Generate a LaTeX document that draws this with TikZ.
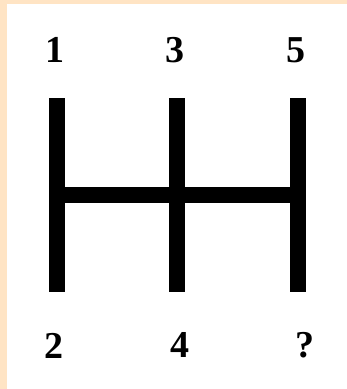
\documentclass[tikz,border=0pt]{standalone}
\usepackage{fontspec}
\setmainfont{Liberation Serif}
\definecolor{bisque}{HTML}{FFE4C4}
\begin{document}
\begin{tikzpicture}[x=1pt, y=-1pt, every node/.style={font=\fontsize{38}{40}\selectfont\bfseries, inner sep=0pt},
  gear/.style={line width=16pt, black}]
  \useasboundingbox (0,0) rectangle (347,389);
  \fill[bisque] (0,0) rectangle (347,389);
  \fill[white] (7,4) rectangle (347,389);
  % gate
  \foreach \x in {56.5,177,298} {\draw[gear] (\x,98) -- (\x,292);}
  \draw[gear] (56.5,195) -- (298,195);
  % gear numbers
  \node (g1) at (55,50) {1};
  \node (g3) at (175,50) {3};
  \node (g5) at (296,50) {5};
  \node (g2) at (54,346) {2};
  \node (g4) at (180,345) {4};
  \node (gq) at (305,345) {?};
\end{tikzpicture}
\end{document}
